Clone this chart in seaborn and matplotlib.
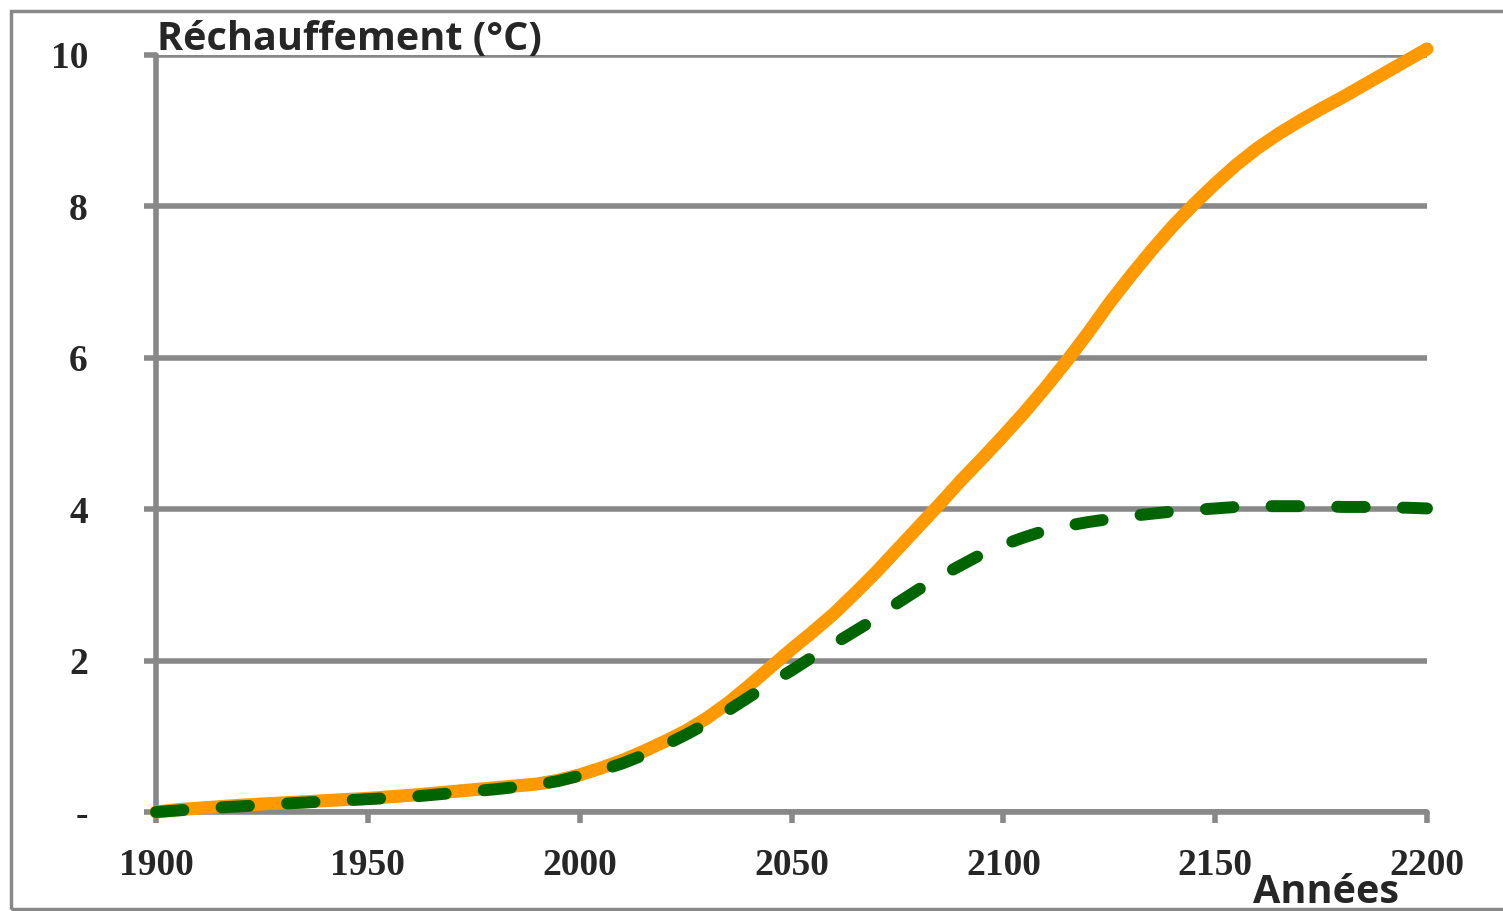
import matplotlib
matplotlib.use("Agg")
import matplotlib.pyplot as plt
from matplotlib.patches import Rectangle
import seaborn as sns
import pandas as pd

# values (every 5 years)
years = list(range(1900, 2201, 5))
rechauffement_haut = [0.0, 0.03, 0.05, 0.07, 0.09, 0.105, 0.12, 0.135, 0.15, 0.165,
                      0.18, 0.20, 0.22, 0.245, 0.27, 0.295, 0.32, 0.345, 0.37, 0.42,
                      0.49, 0.58, 0.68, 0.80, 0.93, 1.07, 1.24, 1.44, 1.67, 1.91,
                      2.15, 2.38, 2.62, 2.89, 3.17, 3.47, 3.77, 4.07, 4.38, 4.67,
                      4.97, 5.28, 5.61, 5.96, 6.33, 6.72, 7.08, 7.42, 7.74, 8.03,
                      8.30, 8.55, 8.77, 8.96, 9.13, 9.29, 9.44, 9.60, 9.76, 9.92,
                      10.08]
rechauffement_stab = [0.0, 0.02, 0.04, 0.06, 0.075, 0.09, 0.11, 0.125, 0.14, 0.155,
                      0.17, 0.185, 0.20, 0.225, 0.25, 0.275, 0.30, 0.33, 0.36, 0.41,
                      0.48, 0.55, 0.64, 0.75, 0.88, 1.02, 1.17, 1.34, 1.52, 1.70,
                      1.87, 2.05, 2.22, 2.39, 2.56, 2.76, 2.94, 3.11, 3.26, 3.41,
                      3.53, 3.63, 3.72, 3.78, 3.83, 3.87, 3.91, 3.94, 3.97, 3.99,
                      4.01, 4.03, 4.04, 4.04, 4.04, 4.04, 4.03, 4.03, 4.02, 4.02,
                      4.01]
x_ticks = [1900, 1950, 2000, 2050, 2100, 2150, 2200]
y_ticks = [0, 2, 4, 6, 8, 10]
y_tick_labels = ["-", "2", "4", "6", "8", "10"]

df = pd.DataFrame({"annee": years,
                   "haut": rechauffement_haut,
                   "stab": rechauffement_stab})

sns.set_theme(style="white")
plt.rcParams["font.family"] = ["Liberation Serif", "DejaVu Serif"]

grey = "#888888"
fig = plt.figure(figsize=(15.03, 9.11), dpi=100)
ax = fig.add_axes([156 / 1503, 99 / 911, (1427 - 156) / 1503, (812 - 55) / 911])

sns.lineplot(data=df, x="annee", y="haut", ax=ax, color="#FF9900",
             linewidth=9.4, solid_capstyle="round", solid_joinstyle="round",
             clip_on=False, zorder=3)
sns.lineplot(data=df, x="annee", y="stab", ax=ax, color="#006400",
             linewidth=8.6, linestyle=(0, (2.3, 3.2)), dash_capstyle="round",
             clip_on=False, zorder=4)

ax.set_xlim(1900, 2200)
ax.set_ylim(0, 10)
ax.set_xticks(x_ticks)
ax.set_yticks(y_ticks)
ax.set_yticklabels(y_tick_labels)
ax.set_xlabel("")
ax.set_ylabel("")

ax.grid(axis="y", color=grey, linewidth=4, zorder=1)
ax.grid(axis="x", visible=False)
for side in ["top", "right"]:
    ax.spines[side].set_visible(False)
for side in ["left", "bottom"]:
    ax.spines[side].set_color(grey)
    ax.spines[side].set_linewidth(4)
    ax.spines[side].set_capstyle("round")

ax.tick_params(axis="x", bottom=True, length=8, width=4, color=grey,
               pad=18, labelsize=27)
ax.tick_params(axis="y", left=True, length=9, width=4, color=grey,
               pad=40, labelsize=27)
for lab in ax.get_xticklabels() + ax.get_yticklabels():
    lab.set_fontweight("bold")

fig.text(157 / 1503, 1 - 50 / 911, "Réchauffement (°C)",
         family=["Open Sans", "DejaVu Sans"], fontweight="bold", fontsize=28.5,
         va="baseline", ha="left")
fig.text(1253 / 1503, 8 / 911, "Années",
         family=["Open Sans", "DejaVu Sans"], fontweight="bold", fontsize=28.5,
         va="baseline", ha="left")

# outer chart-area frame
fig.patches.append(Rectangle((11 / 1503, 2 / 911), 1.2, 1 - 13 / 911,
                             transform=fig.transFigure, fill=False,
                             edgecolor=grey, linewidth=2.5, zorder=0))

fig.savefig("out.png", dpi=100)
